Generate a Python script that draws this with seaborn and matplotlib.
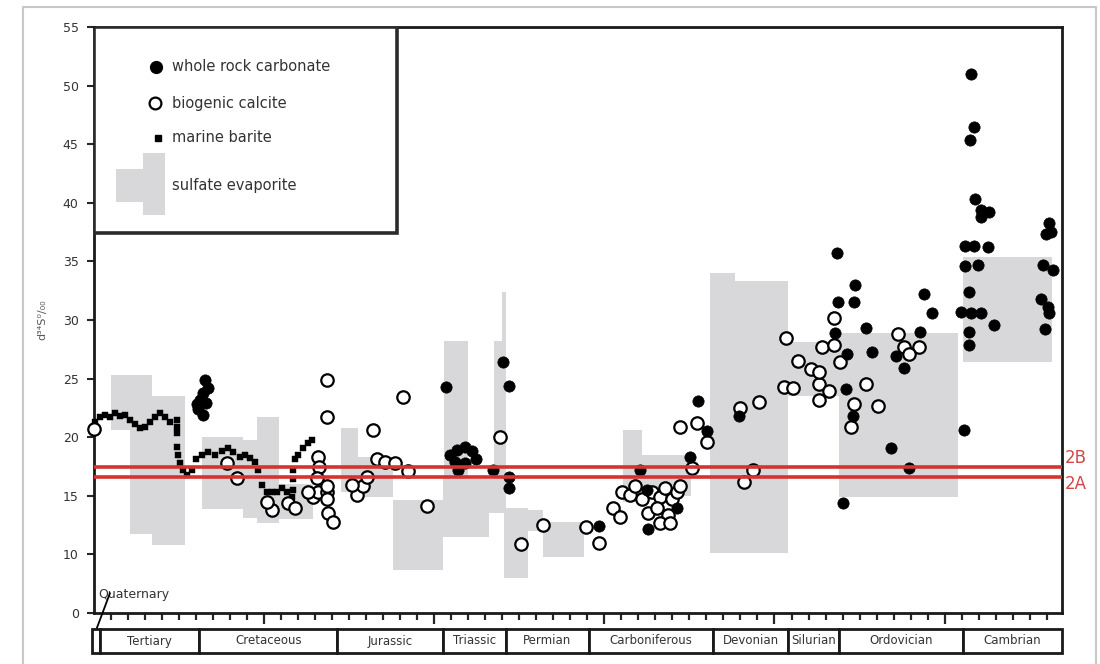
import numpy as np
import pandas as pd
import matplotlib.pyplot as plt
import seaborn as sns
from matplotlib.patches import Rectangle


# geologic time bar (Ma)
PERIOD_NAMES = ["", "Tertiary", "Cretaceous", "Jurassic", "Triassic", "Permian",
                "Carboniferous", "Devonian", "Silurian", "Ordovician", "Cambrian"]
PERIOD_EDGES = [-1, 3.5, 62, 143, 205, 242, 291, 364, 408, 438, 511, 569]

# sulfate evaporite field, one block per row: age from/to (Ma), d34S low/high
EVAP_START = [10, 21, 34, 63.5, 87.6, 96, 109, 145, 155, 176, 206, 205, 232, 235, 240,
              241, 255, 264, 311, 322, 362, 377, 408, 438, 511]
EVAP_END = [21, 34, 53.5, 87.6, 96, 109, 129, 155, 176, 205, 220, 232, 236, 241, 242.4,
            255, 264, 288, 322, 351, 377, 408, 438, 508, 563]
EVAP_LOW = [20.6, 11.7, 10.8, 13.9, 13.1, 12.7, 13.0, 15.3, 14.9, 8.7, 11.5, 11.5, 13.5,
            13.5, 13.5, 8.0, 12.0, 9.8, 14.5, 15.0, 10.1, 10.1, 23.5, 14.9, 26.4]
EVAP_HIGH = [25.3, 25.3, 23.5, 20.0, 19.8, 21.7, 16.0, 20.8, 18.3, 14.6, 28.2, 16.4, 16.4,
             28.2, 32.4, 14.0, 13.8, 12.8, 20.6, 18.5, 34.0, 33.3, 28.1, 28.9, 35.4]

# whole rock carbonate
WRC_AGE = [65.3, 67.1, 64.1, 62.4, 65.9, 61.2, 64.1, 60.6,
           207.1, 240.6, 244.1, 209.4, 213.5, 218.2, 222.4, 224.7, 212.4, 218.2, 214.1,
           234.7, 244.1, 244.1,
           297.1, 325.9, 325.3, 321.2, 342.9, 350.6, 355.3, 360.6, 379.4,
           436.5, 447.6, 437.1, 446.5, 487.6, 492.4, 453.5, 485.3, 435.3, 514.1, 442.9,
           457.6, 471.2, 475.9, 441.8, 445.9, 511.2, 468.2, 478.8, 440.0,
           515.3, 517.1, 514.7, 517.6, 521.2, 525.9, 521.2, 511.8, 517.1, 525.3, 511.8,
           519.4, 514.1, 509.4, 515.3, 521.2, 528.8, 514.1,
           561.2, 559.4, 557.6, 563.5, 556.5, 560.6, 561.2, 558.8, 562.4]
WRC_D34S = [24.9, 24.2, 23.8, 23.2, 22.9, 22.4, 21.9, 22.8,
            24.3, 26.4, 24.4, 18.5, 18.9, 19.2, 18.8, 18.1, 17.9, 17.8, 17.2,
            17.2, 16.6, 15.7,
            12.4, 12.2, 15.5, 17.2, 14.0, 18.3, 23.1, 20.5, 21.8,
            35.7, 33.0, 31.5, 31.5, 32.2, 30.6, 29.3, 29.0, 28.9, 27.9, 27.1,
            27.3, 26.9, 25.9, 24.1, 21.8, 20.6, 19.1, 17.4, 14.4,
            51.0, 46.5, 45.4, 40.3, 39.4, 39.2, 38.8, 36.3, 36.3, 36.2, 34.6,
            34.7, 32.4, 30.7, 30.6, 30.6, 29.6, 29.0,
            38.3, 37.3, 34.7, 34.3, 31.8, 31.1, 30.6, 29.2, 37.5]

# biogenic calcite
BC_AGE = [0.0,
          78.2, 84.1, 104.7, 101.8, 114.1, 118.2, 128.8, 131.8, 137.1, 125.9, 137.1,
          137.6, 140.6, 137.1, 137.1, 131.8, 132.4, 131.2, 137.1,
          154.7, 158.2, 151.8, 164.1, 166.5, 171.2, 177.1, 184.7, 181.8, 195.9, 160.6,
          238.8, 251.2, 264.1, 289.4, 297.1,
          305.3, 309.4, 310.6, 315.3, 318.2, 322.4, 328.2, 332.9, 335.9, 340.0, 342.9,
          344.7, 325.9, 331.2, 337.6, 332.9, 338.8, 351.8, 344.7, 354.7, 360.6,
          380.0, 390.6, 387.1, 381.8, 405.3, 410.6,
          425.9, 431.8, 425.9, 406.5, 414.1, 428.2, 434.7, 421.2, 425.9, 438.8, 446.5,
          444.7, 453.5, 460.6, 472.4, 475.9, 484.7, 478.8, 434.7]
BC_D34S = [20.7,
           17.8, 16.5, 13.8, 14.5, 14.4, 14.0, 14.9, 15.3, 15.3, 15.3, 14.7,
           13.5, 12.8, 21.7, 24.9, 18.3, 17.5, 16.5, 15.8,
           15.1, 15.8, 15.9, 20.6, 18.1, 17.9, 17.8, 17.1, 23.4, 14.1, 16.6,
           20.0, 10.9, 12.5, 12.3, 11.0,
           14.0, 13.2, 15.3, 15.1, 15.8, 14.7, 15.3, 14.9, 15.7, 14.7, 15.3,
           15.8, 13.5, 14.0, 13.4, 12.7, 12.7, 17.4, 20.9, 21.2, 19.6,
           22.5, 23.0, 17.2, 16.2, 24.3, 24.2,
           24.5, 23.9, 23.2, 28.5, 26.5, 27.7, 27.9, 25.8, 25.6, 26.4, 22.8,
           20.9, 24.5, 22.7, 28.8, 27.7, 27.7, 27.1, 30.2]

# marine barite
BAR_AGE = [0.6, 3.5, 6.5, 9.4, 12.4, 15.3, 18.2, 21.2, 24.1, 27.1, 30.0, 32.9, 35.9,
           38.8, 41.8, 44.7, 48.8, 48.8, 48.8, 48.8, 49.4, 50.6, 52.4, 54.7, 57.6, 60.0,
           63.5, 67.1, 71.2, 75.3, 78.8, 81.8, 85.9, 88.8, 91.8, 94.7, 96.5, 98.8,
           101.8, 104.7, 107.6, 110.6, 113.5, 116.5, 117.1, 117.1, 117.1, 118.2, 120.0,
           122.9, 125.9, 128.2]
BAR_D34S = [21.3, 21.7, 21.9, 21.7, 22.1, 21.8, 21.9, 21.5, 21.1, 20.8, 20.9, 21.3, 21.7,
            22.1, 21.7, 21.3, 21.5, 20.9, 20.4, 19.2, 18.5, 17.8, 17.2, 16.8, 17.2, 18.1,
            18.5, 18.7, 18.5, 18.8, 19.1, 18.7, 18.3, 18.5, 18.2, 17.9, 17.2, 15.9,
            15.3, 15.3, 15.3, 15.7, 15.3, 14.9, 15.5, 16.4, 17.2, 18.1, 18.5,
            19.1, 19.5, 19.8]

# reference levels
REF_LABELS = ["2B", "2A"]
REF_VALUES = [17.5, 16.6]

Y_TICKS = [5, 10, 15, 20, 25, 30, 35, 40, 45, 50, 55]
Y_TICK_LABELS = ["0", "10", "15", "20", "25", "30", "35", "40", "45", "50", "55"]


def main():
    sns.set_style("white")
    plt.rcParams["font.family"] = ["DejaVu Sans"]

    wrc = pd.DataFrame({"age": WRC_AGE, "d34S": WRC_D34S})
    bc = pd.DataFrame({"age": BC_AGE, "d34S": BC_D34S})
    bar = pd.DataFrame({"age": BAR_AGE, "d34S": BAR_D34S})

    fig = plt.figure(figsize=(11, 6.64), dpi=100)
    ax = fig.add_axes([94 / 1100, 1 - 613 / 664, 968 / 1100, 586 / 664])

    # evaporite field
    ax.bar(EVAP_START, np.subtract(EVAP_HIGH, EVAP_LOW),
           width=np.subtract(EVAP_END, EVAP_START), bottom=EVAP_LOW,
           align="edge", color="#d8d8da", linewidth=0, zorder=1)

    sns.scatterplot(data=bar, x="age", y="d34S", marker="s", s=14, color="black",
                    edgecolor="black", linewidth=0.3, ax=ax, zorder=3, clip_on=False)
    sns.scatterplot(data=bc, x="age", y="d34S", marker="o", s=80, color="white",
                    edgecolor="black", linewidth=1.6, ax=ax, zorder=3, clip_on=False)
    sns.scatterplot(data=wrc, x="age", y="d34S", marker="o", s=66, color="black",
                    edgecolor="black", linewidth=0.5, ax=ax, zorder=4)

    for label, val in zip(REF_LABELS, REF_VALUES):
        ax.axhline(val, color="#d63330", lw=2.6, zorder=6)
        off = 0.7 if label == "2B" else -0.6
        ax.text(1.003, val + off, label, color="#d04848", fontsize=12,
                transform=ax.get_yaxis_transform(), va="center", ha="left")

    ax.set_xlim(0, PERIOD_EDGES[-1])
    ax.set_ylim(5, 55)
    ax.set_yticks(Y_TICKS)
    ax.set_yticklabels(Y_TICK_LABELS)
    ax.set_xticks(np.arange(100, 569, 100))
    ax.set_xticks(np.arange(10, 569, 10), minor=True)
    ax.set_xticklabels([])
    ax.set_xlabel("")
    ax.set_ylabel("")
    ax.tick_params(axis="y", direction="out", length=5, width=1.5, pad=6,
                   labelsize=9, labelcolor="#333333", left=True)
    ax.tick_params(axis="x", which="major", direction="out", length=8, width=1.6,
                   bottom=True)
    ax.tick_params(axis="x", which="minor", direction="out", length=5, width=1.6,
                   bottom=True)
    for side in ["left", "right", "top", "bottom"]:
        ax.spines[side].set_visible(True)
        ax.spines[side].set_linewidth(2)
        ax.spines[side].set_color("#1a1a1a")

    fig.text(42 / 1100, 1 - 320 / 664, "d\u00b3\u2074S\u2070/\u2080\u2080", rotation=90,
             fontsize=8, color="#555555", ha="center", va="center")

    # Quaternary label and leader
    ax.text(2.5, 6.6, "Quaternary", fontsize=9, color="#333333", va="center")
    ax.plot([9.4, 0.6], [6.7, 3.3], color="black", lw=1.3, clip_on=False, zorder=7)

    # legend box
    ax.add_patch(Rectangle((0.0, 0.648), 0.313, 0.352, transform=ax.transAxes,
                           facecolor="white", edgecolor="#2b2b2b", lw=2.6, zorder=10))
    ax.plot([0.064], [0.932], "o", ms=8.5, color="black", transform=ax.transAxes, zorder=11)
    ax.plot([0.063], [0.870], "o", ms=8.5, mfc="white", mec="black", mew=1.6,
            transform=ax.transAxes, zorder=11)
    ax.plot([0.066], [0.811], "s", ms=4, color="black", transform=ax.transAxes, zorder=11)
    ax.add_patch(Rectangle((0.023, 0.701), 0.038, 0.056, transform=ax.transAxes,
                           facecolor="#d8d8da", lw=0, zorder=11))
    ax.add_patch(Rectangle((0.051, 0.679), 0.022, 0.106, transform=ax.transAxes,
                           facecolor="#d8d8da", lw=0, zorder=11))
    legend_items = ["whole rock carbonate", "biogenic calcite", "marine barite",
                    "sulfate evaporite"]
    for txt, yy in zip(legend_items, [0.932, 0.870, 0.811, 0.730]):
        ax.text(0.081, yy, txt, fontsize=10.5, color="#333333", va="center",
                transform=ax.transAxes, zorder=11)

    # period bar under the time axis
    axp = fig.add_axes([94 / 1100, 1 - 653 / 664, 968 / 1100, 24 / 664])
    axp.set_xlim(0, PERIOD_EDGES[-1])
    axp.set_ylim(0, 1)
    axp.bar(PERIOD_EDGES[:-1], 1, width=np.diff(PERIOD_EDGES), bottom=0, align="edge",
            facecolor="white", edgecolor="#1a1a1a", linewidth=2, clip_on=False)
    for name, a, b in zip(PERIOD_NAMES, PERIOD_EDGES[:-1], PERIOD_EDGES[1:]):
        axp.text((a + b) / 2, 0.5, name, ha="center", va="center", fontsize=8.5,
                 color="#333333")
    axp.axis("off")

    fig.patches.append(Rectangle((0.021, -0.01), 0.975, 1.0, transform=fig.transFigure,
                                 fill=False, edgecolor="#c8c8c8", lw=1.5))

    fig.savefig("out.png", dpi=100, facecolor="white")
    plt.close(fig)


if __name__ == "__main__":
    main()
